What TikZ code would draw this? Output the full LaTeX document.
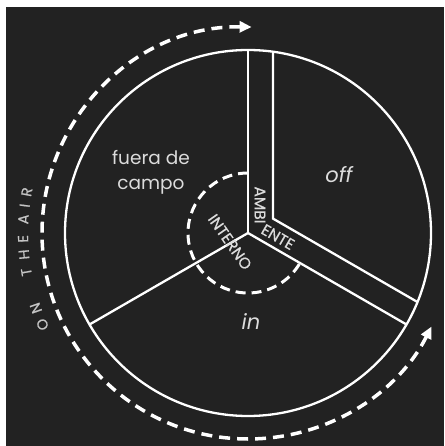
\documentclass[tikz,border=0pt]{standalone}
\usepackage{fontspec}
\setmainfont{Poppins}
\newfontfamily\tagfont{Poppins}[FakeBold=0.6]
\usepackage{xcolor}
\usetikzlibrary{arrows.meta,calc}
\definecolor{bgdark}{HTML}{222222}
\definecolor{txtgray}{HTML}{DCDCDC}
\definecolor{airgray}{HTML}{C4C4C4}

\begin{document}
\begin{tikzpicture}[
    x=1pt, y=1pt,
    wline/.style={draw=white, line width=2.3pt},
    dline/.style={draw=white, line width=3pt, dash pattern=on 10pt off 6pt},
    arcline/.style={draw=white, line width=3.5pt, dash pattern=on 11pt off 7pt},
    lbl/.style={text=txtgray, font=\fontsize{18.5}{25}\selectfont, align=center},
    tag/.style={text=txtgray, font=\tagfont\fontsize{15.5}{15.5}\selectfont, inner sep=0pt},
    airtxt/.style={text=airgray, font=\tagfont\fontsize{14.5}{14.5}\selectfont, inner sep=0pt},
]
\useasboundingbox (-248,-213) rectangle (196,233);
\fill[white] (-248,-213) rectangle (196,233);
\fill[bgdark] (-242,-213) rectangle (196,226);

\coordinate (c) at (0,0);
\coordinate (corner) at (25,14.4);
\coordinate (top) at (25,181.3);

% main circle and the three sectors
\draw[wline] (c) circle (183);
\draw[wline] (c) -- (90:183);
\draw[wline] (c) -- (-30:183);
\draw[wline] (c) -- (210:183);
% ambient strip
\draw[wline] (top) -- (corner) -- ($(corner)+(-30:166.9)$);

% inner dashed arc
\draw[dline] (90:60) arc[start angle=90, end angle=330, radius=60];

% outer dashed arc
\draw[arcline, {Triangle[length=12pt, width=11pt]}-{Triangle[length=12pt, width=11pt]}]
    (89:206) arc[start angle=89, end angle=333, radius=206];

% labels
\node[lbl] (fuera) at (-97,61) {fuera de\\campo};
\node[lbl, font=\fontsize{21}{25}\selectfont\itshape] (off) at (91,58) {off};
\node[lbl, font=\fontsize{21}{25}\selectfont\itshape] (in) at (3,-89) {in};
\node[tag, rotate=-90] (ambi) at (12,28) {AMBI};
\node[tag, rotate=-30] (ente) at (30,-4) {ENTE};
\node[tag, rotate=-55] (interno) at (-18,-9) {INTERNO};

\foreach \ch/\ang [count=\i] in {O/204, N/199.5, T/190, H/185.5, E/181.5, A/176.5, I/173, R/169.5}
    \node[airtxt, rotate=\ang-90] (air\i) at (\ang:225) {\ch};
\end{tikzpicture}
\end{document}
